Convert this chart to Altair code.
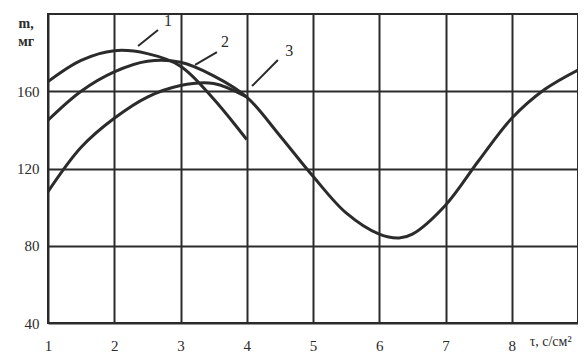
import altair as alt
import pandas as pd

# curve data
x1 = [1, 1.5, 2, 2.5, 3, 3.5, 4]
y1 = [165, 176, 181, 179.5, 173, 156, 135]

x2 = [1, 1.5, 2, 2.5, 3, 3.5, 4, 4.5, 5, 5.5, 6, 6.3, 6.5, 7, 7.5, 8, 8.5, 9]
y2 = [145, 160, 170, 175.5, 175, 168, 157, 137, 116, 97, 86, 84, 86, 101, 124, 146, 161, 171]

x3 = [1, 1.5, 2, 2.5, 3, 3.5, 4]
y3 = [108, 131, 146, 157, 163, 164, 157]

x_ticks = [1, 2, 3, 4, 5, 6, 7, 8]
y_ticks = [40, 80, 120, 160]

label_text = ["1", "2", "3"]
label_x = [2.81, 3.67, 4.64]
label_y = [196.5, 185.5, 181.0]
lead_x = [2.66, 3.55, 4.47]
lead_y = [191.7, 180.3, 176.2]
lead_x2 = [2.36, 3.22, 4.08]
lead_y2 = [183.4, 173.6, 162.7]

rows = []
for cid, xs, ys in (("1", x1, y1), ("2", x2, y2), ("3", x3, y3)):
    for xv, yv in zip(xs, ys):
        rows.append({"curve": cid, "t": xv, "m": yv})
df = pd.DataFrame(rows)

labels = pd.DataFrame({"txt": label_text, "x": label_x, "y": label_y,
                       "lx": lead_x, "ly": lead_y, "lx2": lead_x2, "ly2": lead_y2})

FONT = "Liberation Serif"
INK = "#2b2b2b"

xs = alt.Scale(domain=[1, 9], nice=False, zero=False)
ys = alt.Scale(domain=[40, 200], nice=False, zero=False)

xaxis = alt.Axis(values=x_ticks, format="d", title=None, grid=True, gridColor=INK,
                 gridWidth=2, gridOpacity=1, ticks=False, domain=False, labelFont=FONT,
                 labelFontSize=15, labelColor=INK, labelPadding=15, labelFlush=False)
yaxis = alt.Axis(values=y_ticks, format="d", title=None, grid=True, gridColor=INK,
                 gridWidth=2, gridOpacity=1, ticks=False, domain=False, labelFont=FONT,
                 labelFontSize=15, labelColor=INK, labelPadding=9)

curves = alt.Chart(df).mark_line(interpolate="catmull-rom", strokeWidth=3, color=INK).encode(
    x=alt.X("t:Q", scale=xs, axis=xaxis),
    y=alt.Y("m:Q", scale=ys, axis=yaxis),
    detail="curve:N",
)

leaders = alt.Chart(labels).mark_rule(strokeWidth=2, color=INK).encode(
    x=alt.X("lx:Q", scale=xs), y=alt.Y("ly:Q", scale=ys),
    x2="lx2:Q", y2="ly2:Q",
)

ltext = alt.Chart(labels).mark_text(font=FONT, fontSize=16, fill=INK).encode(
    x=alt.X("x:Q", scale=xs), y=alt.Y("y:Q", scale=ys), text="txt:N"
)

titles = pd.DataFrame({"txt": ["m,", "мг", "τ, с/см²"],
                       "x": [0.67, 0.67, 8.27], "y": [195.0, 185.5, 30.0]})

ytitle = alt.Chart(titles.iloc[:2]).mark_text(font=FONT, fontSize=14, fill=INK,
                                              fontWeight="bold").encode(
    x=alt.X("x:Q", scale=xs), y=alt.Y("y:Q", scale=ys), text="txt:N"
)
xtitle = alt.Chart(titles.iloc[2:]).mark_text(font=FONT, fontSize=14, fill=INK,
                                              align="left").encode(
    x=alt.X("x:Q", scale=xs), y=alt.Y("y:Q", scale=ys), text="txt:N"
)

chart = alt.layer(curves, leaders, ltext, ytitle, xtitle).properties(
    width=530, height=309,
    autosize=alt.AutoSizeParams(type="none"),
    padding={"left": 40, "top": 6, "right": 0, "bottom": 30},
    background="white",
).configure_view(stroke=INK, strokeWidth=2)

chart.save("out.html", embed_options={"renderer": "svg", "actions": False})
